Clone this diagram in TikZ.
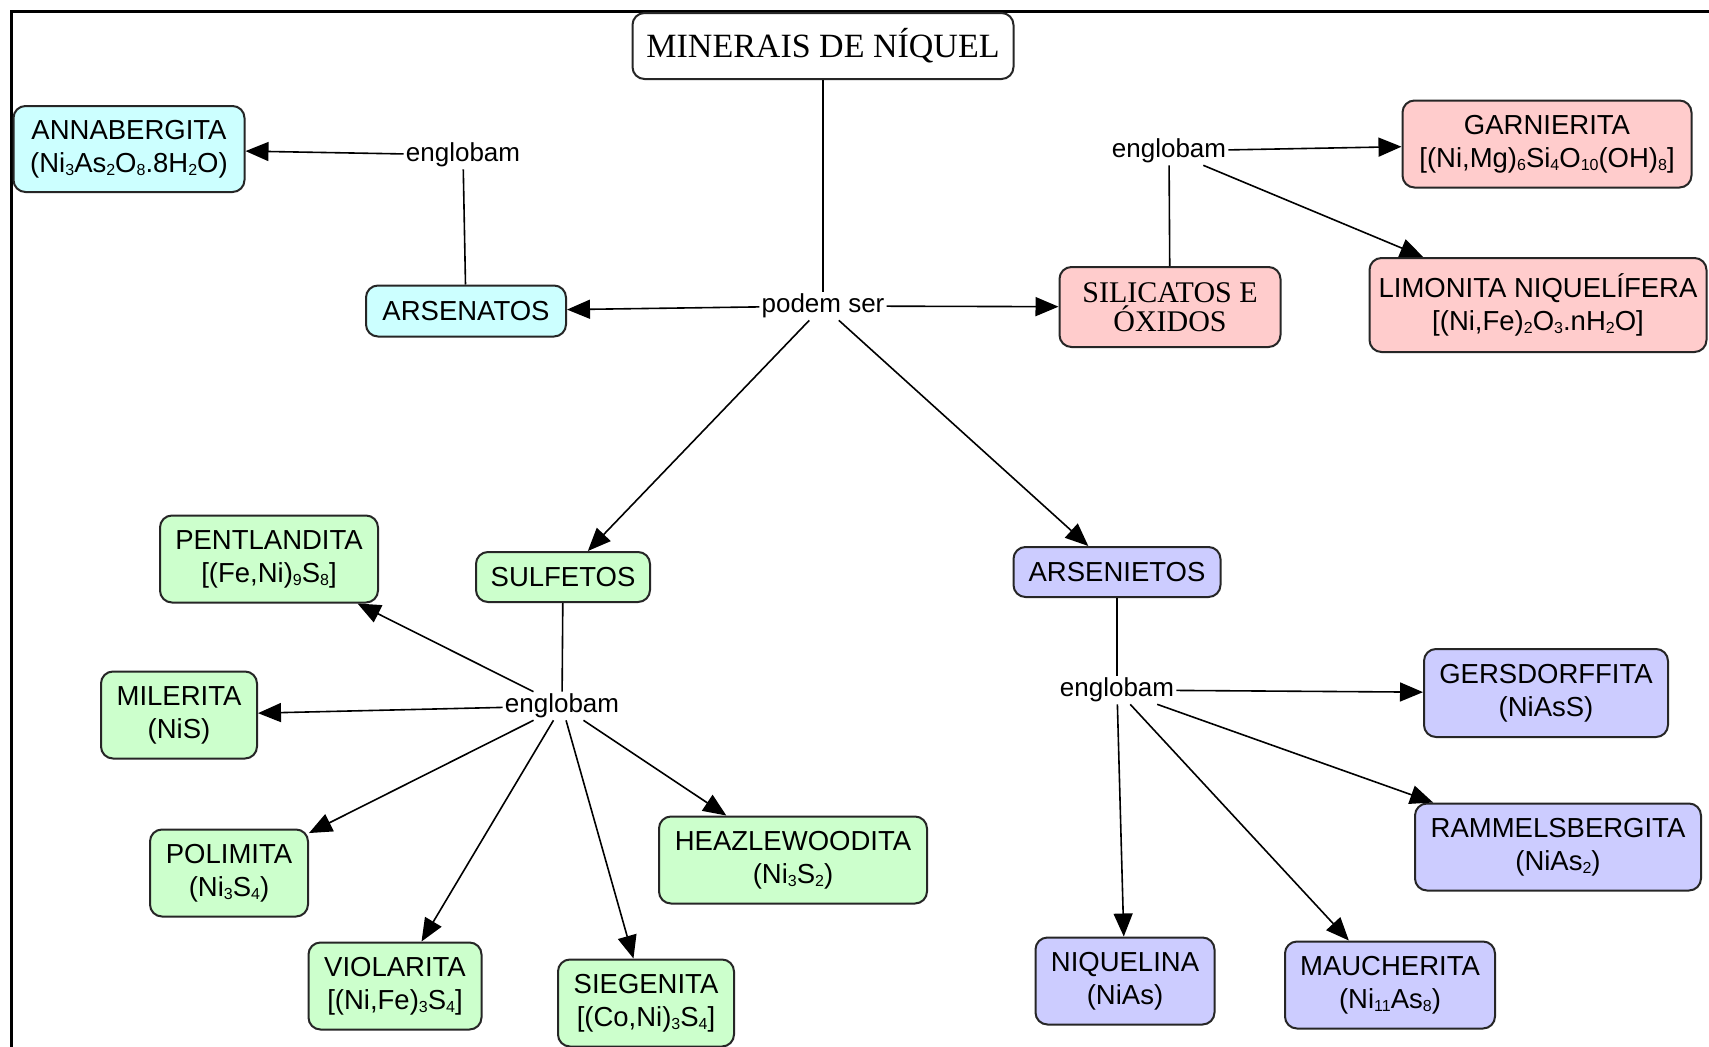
\documentclass[tikz,border=0pt]{standalone}
\usepackage{fontspec}
\setmainfont{Liberation Sans}
\newfontfamily\serifont{Liberation Serif}
\usetikzlibrary{arrows.meta}
\definecolor{cyanf}{RGB}{204,255,255}
\definecolor{pinkf}{RGB}{255,204,204}
\definecolor{greenf}{RGB}{204,255,204}
\definecolor{lavf}{RGB}{204,204,255}
\newcommand\sbs[1]{\raisebox{-0.2ex}{\fontsize{16}{16}\selectfont #1}}
\begin{document}
\begin{tikzpicture}[x=1pt,y=-1pt,
  box/.style={draw=black!85, line width=2pt, rounded corners=12pt, align=center,
    font=\fontsize{27.5}{33}\selectfont, inner sep=0pt},
  lab/.style={font=\fontsize{26}{30}\selectfont, inner sep=2pt},
  arr/.style={line width=1.6pt, -{Triangle[length=23pt,width=19pt]}},
  ln/.style={line width=1.6pt}]
\useasboundingbox (0,0) rectangle (1709,1047);
\fill[white] (0,0) rectangle (1709,1047);
\draw[line width=3pt] (11,1050) -- (11,11) -- (1712,11);

% nodes
\node[box, fill=white, minimum width=381, minimum height=66, font=\serifont\fontsize{34}{38}\selectfont] (title) at (823,46) {MINERAIS DE NÍQUEL};
\node[lab] (podem) at (823,306) {podem ser};

\node[box, fill=cyanf, minimum width=231, minimum height=86] (annab) at (129,149) {ANNABERGITA\\(Ni\sbs{3}As\sbs{2}O\sbs{8}.8H\sbs{2}O)};
\node[lab] (engA) at (463,155) {englobam};
\node[box, fill=cyanf, minimum width=200, minimum height=51] (arsenatos) at (466,311) {ARSENATOS};

\node[box, fill=pinkf, minimum width=221, minimum height=80, font=\serifont\fontsize{30}{29}\selectfont] (silic) at (1170,307) {SILICATOS E\\ÓXIDOS};
\node[lab] (engS) at (1169,151) {englobam};
\node[box, fill=pinkf, minimum width=289, minimum height=87] (garn) at (1547,144) {GARNIERITA\\{}[(Ni,Mg)\sbs{6}Si\sbs{4}O\sbs{10}(OH)\sbs{8}]};
\node[box, fill=pinkf, minimum width=337, minimum height=94] (limon) at (1538,305) {LIMONITA NIQUELÍFERA\\{}[(Ni,Fe)\sbs{2}O\sbs{3}.nH\sbs{2}O]};

\node[box, fill=greenf, minimum width=174, minimum height=50] (sulf) at (563,577) {SULFETOS};
\node[lab] (engSul) at (562,706) {englobam};
\node[box, fill=greenf, minimum width=218, minimum height=87] (pent) at (269,559) {PENTLANDITA\\{}[(Fe,Ni)\sbs{9}S\sbs{8}]};
\node[box, fill=greenf, minimum width=156, minimum height=87] (mil) at (179,715) {MILERITA\\(NiS)};
\node[box, fill=greenf, minimum width=158, minimum height=87] (pol) at (229,873) {POLIMITA\\(Ni\sbs{3}S\sbs{4})};
\node[box, fill=greenf, minimum width=173, minimum height=87] (viol) at (395,986) {VIOLARITA\\{}[(Ni,Fe)\sbs{3}S\sbs{4}]};
\node[box, fill=greenf, minimum width=176, minimum height=87] (sieg) at (646,1003) {SIEGENITA\\{}[(Co,Ni)\sbs{3}S\sbs{4}]};
\node[box, fill=greenf, minimum width=268, minimum height=87] (heaz) at (793,860) {HEAZLEWOODITA\\(Ni\sbs{3}S\sbs{2})};

\node[box, fill=lavf, minimum width=207, minimum height=50] (arsen) at (1117,572) {ARSENIETOS};
\node[lab] (engAr) at (1117,690) {englobam};
\node[box, fill=lavf, minimum width=244, minimum height=88] (gers) at (1546,693) {GERSDORFFITA\\(NiAsS)};
\node[box, fill=lavf, minimum width=286, minimum height=87] (ramm) at (1558,847) {RAMMELSBERGITA\\(NiAs\sbs{2})};
\node[box, fill=lavf, minimum width=179, minimum height=87] (niq) at (1125,981) {NIQUELINA\\(NiAs)};
\node[box, fill=lavf, minimum width=210, minimum height=87] (mauch) at (1390,985) {MAUCHERITA\\(Ni\sbs{11}As\sbs{8})};

% connectors
\draw[ln] (title) -- (podem);
\draw[arr] (podem) -- (arsenatos);
\draw[arr] (podem) -- (silic);
\draw[arr] (podem) -- (sulf);
\draw[arr] (podem) -- (arsen);

\draw[ln] (arsenatos) -- (engA);
\draw[arr] (engA) -- (annab);

\draw[ln] (silic) -- (engS);
\draw[arr] (engS) -- (garn);
\draw[arr] (engS) -- (limon);

\draw[ln] (sulf) -- (engSul);
\draw[arr] (engSul) -- (pent);
\draw[arr] (engSul) -- (mil);
\draw[arr] (engSul) -- (pol);
\draw[arr] (engSul) -- (viol);
\draw[arr] (engSul) -- (sieg);
\draw[arr] (engSul) -- (heaz);

\draw[ln] (arsen) -- (engAr);
\draw[arr] (engAr) -- (gers);
\draw[arr] (engAr) -- (ramm);
\draw[arr] (engAr) -- (niq);
\draw[arr] (engAr) -- (mauch);
\end{tikzpicture}
\end{document}
